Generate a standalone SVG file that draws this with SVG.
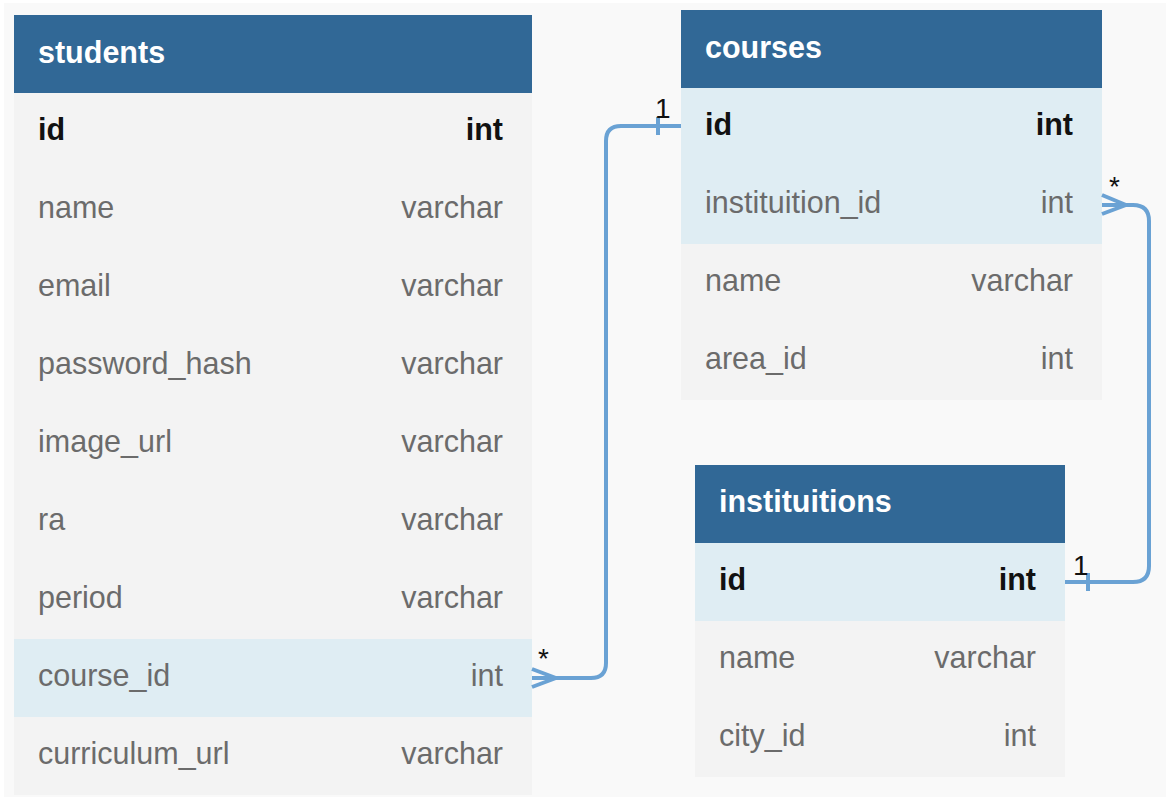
<svg xmlns="http://www.w3.org/2000/svg" width="1170" height="800" viewBox="0 0 1170 800">
<style>
.hdr{fill:#316896}
.row{fill:#f3f3f3}
.hl{fill:#dfedf3}
.title{font-family:"Liberation Sans",Arial,sans-serif;font-size:30.5px;font-weight:bold;fill:#ffffff}
.f{font-family:"Liberation Sans",Arial,sans-serif;font-size:30.5px;fill:#6b6b6b}
.t{font-family:"Liberation Sans",Arial,sans-serif;font-size:30.5px;fill:#6b6b6b;text-anchor:end}
.k{font-family:"Liberation Sans",Arial,sans-serif;font-size:30.5px;font-weight:bold;fill:#111111}
.kt{font-family:"Liberation Sans",Arial,sans-serif;font-size:30.5px;font-weight:bold;fill:#111111;text-anchor:end}
.c{fill:none;stroke:#6aa2d4;stroke-width:4;stroke-linecap:butt;stroke-linejoin:round}
.lbl{font-family:"Liberation Sans",Arial,sans-serif;font-size:28px;fill:#111111}
</style>
<rect x="0" y="0" width="1170" height="800" fill="#ffffff"/>
<rect x="4" y="3" width="1162" height="794" fill="#f9f9f9"/>

<g id="students">
<rect x="14" y="15" width="518" height="78" class="hdr"/>
<text x="38" y="63" class="title">students</text>
<rect x="14" y="93" width="518" height="546" class="row"/>
<rect x="14" y="639" width="518" height="78" class="hl"/>
<rect x="14" y="717" width="518" height="78" class="row"/>
<text x="38" y="140" class="k">id</text><text x="503" y="140" class="kt">int</text>
<text x="38" y="218" class="f">name</text><text x="503" y="218" class="t">varchar</text>
<text x="38" y="296" class="f">email</text><text x="503" y="296" class="t">varchar</text>
<text x="38" y="374" class="f">password_hash</text><text x="503" y="374" class="t">varchar</text>
<text x="38" y="452" class="f">image_url</text><text x="503" y="452" class="t">varchar</text>
<text x="38" y="530" class="f">ra</text><text x="503" y="530" class="t">varchar</text>
<text x="38" y="608" class="f">period</text><text x="503" y="608" class="t">varchar</text>
<text x="38" y="686" class="f">course_id</text><text x="503" y="686" class="t">int</text>
<text x="38" y="764" class="f">curriculum_url</text><text x="503" y="764" class="t">varchar</text>
</g>

<g id="courses">
<rect x="681" y="10" width="421" height="78" class="hdr"/>
<text x="705" y="58" class="title">courses</text>
<rect x="681" y="88" width="421" height="156" class="hl"/>
<rect x="681" y="244" width="421" height="156" class="row"/>
<text x="705" y="135" class="k">id</text><text x="1073" y="135" class="kt">int</text>
<text x="705" y="213" class="f">instituition_id</text><text x="1073" y="213" class="t">int</text>
<text x="705" y="291" class="f">name</text><text x="1073" y="291" class="t">varchar</text>
<text x="705" y="369" class="f">area_id</text><text x="1073" y="369" class="t">int</text>
</g>

<g id="instituitions">
<rect x="695" y="465" width="370" height="78" class="hdr"/>
<text x="719" y="512" class="title">instituitions</text>
<rect x="695" y="543" width="370" height="78" class="hl"/>
<rect x="695" y="621" width="370" height="156" class="row"/>
<text x="719" y="590" class="k">id</text><text x="1036" y="590" class="kt">int</text>
<text x="719" y="668" class="f">name</text><text x="1036" y="668" class="t">varchar</text>
<text x="719" y="746" class="f">city_id</text><text x="1036" y="746" class="t">int</text>
</g>

<g id="connectors">
<path class="c" d="M681,126 H621 Q606,126 606,141 V663 Q606,678 591,678 H532"/>
<path class="c" d="M532,669 L556,678 L532,687"/>
<path class="c" d="M658,117 V135"/>
<text x="655" y="118" class="lbl">1</text>
<text x="538" y="668" class="lbl">*</text>

<path class="c" d="M1102,205 H1133 Q1149,205 1149,221 V566 Q1149,582 1133,582 H1065"/>
<path class="c" d="M1102,195 L1126,205 L1102,214"/>
<path class="c" d="M1088,573 V591"/>
<text x="1073" y="575" class="lbl">1</text>
<text x="1109" y="196" class="lbl">*</text>
</g>
</svg>
